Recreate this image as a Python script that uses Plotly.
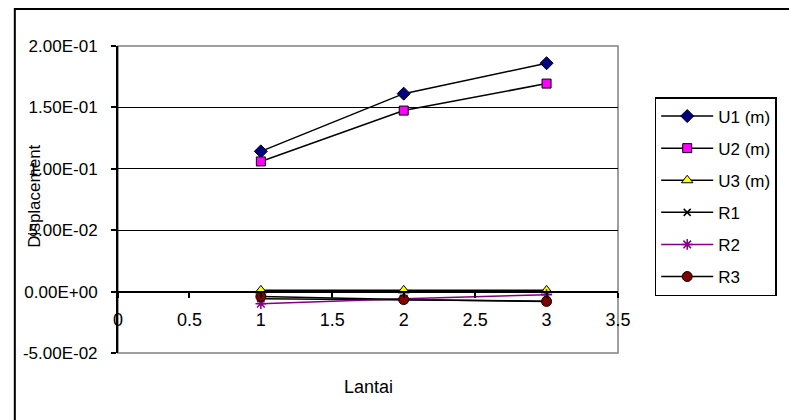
import plotly.graph_objects as go

lantai = [1, 2, 3]
u1 = [0.1142, 0.1612, 0.1860]
u2 = [0.1060, 0.1474, 0.1694]
u3 = [0.0010, 0.0010, 0.0010]
r1 = [-0.0058, -0.0068, -0.0078]
r2 = [-0.0098, -0.0058, -0.0025]
r3 = [-0.0040, -0.0065, -0.0080]

y_tickvals = [-0.05, 0.0, 0.05, 0.10, 0.15, 0.20]
y_ticktext = ["-5.00E-02", "0.00E+00", "5.00E-02", "1.00E-01", "1.50E-01", "2.00E-01"]
x_tickvals = [0, 0.5, 1, 1.5, 2, 2.5, 3, 3.5]
x_ticktext = ["0", "0.5", "1", "1.5", "2", "2.5", "3", "3.5"]

FONT = "Liberation Sans, Arial, sans-serif"

series = [
    ("U1 (m)", u1, "black", dict(symbol="diamond", size=10, color="#000080", line=dict(color="black", width=1))),
    ("U2 (m)", u2, "black", dict(symbol="square", size=9, color="#FF00FF", line=dict(color="black", width=1))),
    ("U3 (m)", u3, "black", dict(symbol="triangle-up", size=10, color="#FFFF00", line=dict(color="black", width=1))),
    ("R1", r1, "black", dict(symbol="x-thin", size=7, color="black", line=dict(color="black", width=1.5))),
    ("R2", r2, "#800080", dict(symbol="asterisk", size=9, color="#800080", line=dict(color="#800080", width=1.5))),
    ("R3", r3, "black", dict(symbol="circle", size=10, color="#800000", line=dict(color="black", width=1))),
]

fig = go.Figure()
for i, (name, ys, lc, mk) in enumerate(series):
    fig.add_trace(go.Scatter(
        x=lantai, y=ys, name=name, mode="lines+markers",
        line=dict(color=lc, width=1.5), marker=mk, legendgroup=f"g{i}",
    ))

L, R, T, B = 118, 622, 46, 353
W, H = 789, 420
pw, ph = R - L, B - T

fig.update_layout(
    width=W, height=H,
    margin=dict(l=L, r=W - R, t=T, b=H - B, pad=0),
    paper_bgcolor="white", plot_bgcolor="white",
    font=dict(family=FONT, size=17, color="black"),
    showlegend=True,
    legend=dict(
        x=(659 - L) / pw, y=(B - 97) / ph, xanchor="left", yanchor="top",
        bordercolor="black", borderwidth=1.5, bgcolor="white",
        font=dict(size=17), tracegroupgap=7, itemwidth=52,
    ),
    xaxis=dict(
        range=[0, 3.5], tickvals=x_tickvals, ticktext=x_ticktext,
        anchor="free", position=0.2, showline=True, linecolor="black", linewidth=2,
        ticks="outside", ticklen=5, tickcolor="black", tickwidth=1.5,
        showgrid=False, zeroline=False, ticklabelstandoff=7,
        tickfont=dict(size=18),
    ),
    yaxis=dict(
        range=[-0.05, 0.2], tickvals=y_tickvals, ticktext=y_ticktext,
        showline=True, linecolor="black", linewidth=2, ticks="outside", ticklen=5,
        tickcolor="black", tickwidth=1.5, showgrid=True, gridcolor="black", gridwidth=1.3,
        zeroline=False, ticklabelstandoff=10,
    ),
    shapes=[
        dict(type="rect", xref="x domain", yref="y domain", x0=0, x1=1, y0=0, y1=1,
             line=dict(color="#808080", width=1.5), layer="below"),
        dict(type="rect", xref="paper", yref="paper",
             x0=(14 - L) / pw, x1=(W + 20 - L) / pw, y0=(B - (H + 20)) / ph, y1=(B - 9) / ph,
             line=dict(color="black", width=2)),
    ],
    annotations=[
        dict(text="Displacement", xref="paper", yref="paper", x=(33 - L) / pw, y=(B - 196) / ph,
             textangle=-90, showarrow=False, font=dict(size=17), xanchor="center", yanchor="middle"),
        dict(text="Lantai", xref="paper", yref="paper", x=0.5, y=(B - 387) / ph,
             showarrow=False, font=dict(size=18), xanchor="center", yanchor="middle"),
    ],
)

fig.write_html("out.html")
